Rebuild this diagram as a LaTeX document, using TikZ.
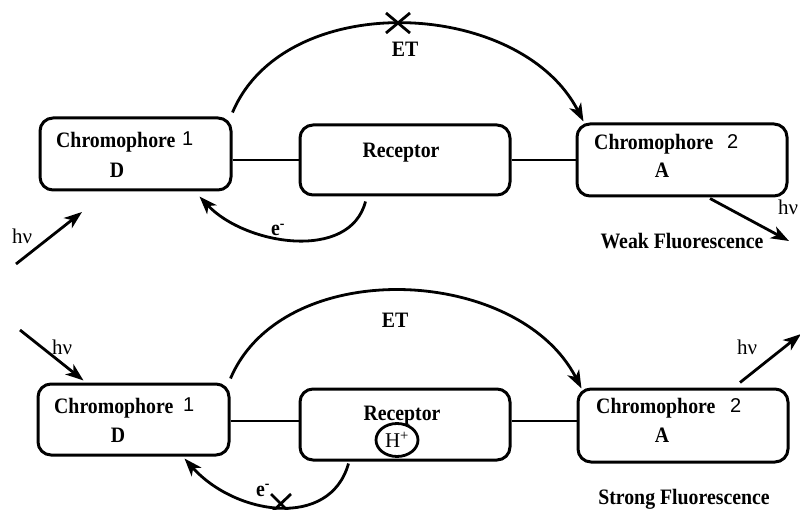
\documentclass[tikz,border=0pt]{standalone}
\usepackage{fontspec}
\setmainfont{Liberation Serif}
\newfontfamily\bsf[FakeStretch=0.9]{Liberation Serif}
\newfontfamily\numfont{Liberation Sans}
\usetikzlibrary{arrows.meta,shapes.geometric}
\begin{document}
\begin{tikzpicture}[x=1pt,y=-1pt,
  box/.style={draw, line width=3pt, rounded corners=13pt, inner sep=0},
  lbl/.style={font=\bsf\bfseries\fontsize{22}{24}\selectfont, inner sep=0},
  num/.style={font=\numfont\fontsize{20}{22}\selectfont, inner sep=0, anchor=base west},
  hv/.style={font=\fontsize{21}{23}\selectfont, inner sep=0, anchor=base west},
  link/.style={line width=2.8pt},
  arr/.style={line width=2.8pt, -{Stealth[length=18pt,width=13pt,inset=5pt]}},
  cross/.style={line width=2.8pt}]
\useasboundingbox (0,0) rectangle (800,510);
\clip (0,0) rectangle (800,510);

% ---------- top row ----------
\node[box, minimum width=191pt, minimum height=72pt] (c1t) at (135.5,154) {};
\node[box, minimum width=210pt, minimum height=70pt] (rt) at (405,160) {};
\node[box, minimum width=210pt, minimum height=72pt] (c2t) at (682,160) {};

\node[lbl, anchor=base west] (t1a) at (56,148) {Chromophore};
\node[num] (t1n) at (182,146) {1};
\node[lbl, anchor=base] (t1d) at (117,178) {D};
\node[lbl, anchor=base] (trt) at (401,158) {Receptor};
\node[lbl, anchor=base west] (t2a) at (594,150) {Chromophore};
\node[num] (t2n) at (727,149) {2};
\node[lbl, anchor=base] (t2d) at (662,178) {A};

\draw[link] (c1t.east |- rt.west) -- (rt.west);
\draw[link] (rt.east) -- (c2t.west);

\draw[arr] ([yshift=4pt]c1t.north east) .. controls (285,-12) and (520,-2) .. ([xshift=8pt,yshift=1pt]c2t.north west);
\draw[cross] (386,13) -- (410,33) (386,33) -- (410,13);
\node[lbl, anchor=base] (ett) at (405,57) {ET};

\draw[arr] ([xshift=67pt,yshift=-5pt]rt.south west) .. controls (350,262) and (245,245) .. ([xshift=-33pt,yshift=-5pt]c1t.south east);
\node[lbl, anchor=base west] (et) at (271,236) {e\textsuperscript{-}};

\coordinate (h1s) at (16,264);
\coordinate (h1e) at (82,212);
\draw[arr] (h1s) -- (h1e);
\node[hv] (h1l) at (12,244) {hν};

\coordinate (h2e) at (789,241);
\draw[arr] ([xshift=28pt,yshift=-1pt]c2t.south) -- (h2e);
\node[hv] (h2l) at (778,215) {hν};
\node[lbl, anchor=base] (wf) at (682,249) {Weak Fluorescence};

% ---------- bottom row ----------
\node[box, minimum width=191pt, minimum height=71pt] (c1b) at (133.5,419.5) {};
\node[box, minimum width=210pt, minimum height=71pt] (rb) at (405,424.5) {};
\node[box, minimum width=210pt, minimum height=73pt] (c2b) at (683,425.5) {};

\node[lbl, anchor=base west] (b1a) at (54,413) {Chromophore};
\node[num] (b1n) at (183,411) {1};
\node[lbl, anchor=base] (b1d) at (118,442) {D};
\node[lbl, anchor=base] (brt) at (402,420) {Receptor};
\node[draw, ellipse, line width=2.8pt, minimum width=42pt, minimum height=33pt, inner sep=0,
      font=\fontsize{21}{23}\selectfont] (hp) at (397,440) {H\textsuperscript{+}};
\node[lbl, anchor=base west] (b2a) at (596,413) {Chromophore};
\node[num] (b2n) at (730,412) {2};
\node[lbl, anchor=base] (b2d) at (662,442) {A};

\draw[link] (c1b.east |- 0,421) -- (rb.west |- 0,421);
\draw[link] (rb.east |- 0,421) -- (c2b.west |- 0,421);

\draw[arr] ([yshift=4pt]c1b.north east) .. controls (283,255) and (518,265) .. ([xshift=5pt,yshift=-1pt]c2b.north west);
\node[lbl, anchor=base] (etb) at (395,327) {ET};

\draw[arr] ([xshift=50pt,yshift=-2pt]rb.south west) .. controls (330,530) and (235,515) .. ([xshift=-46pt,yshift=-2pt]c1b.south east);
\draw[cross] (271,494) -- (290,513) (291,494) -- (271,513);
\node[lbl, anchor=base west] (eb) at (256,496) {e\textsuperscript{-}};

\coordinate (h3s) at (20,330);
\draw[arr] (h3s) -- ([xshift=47pt,yshift=2pt]c1b.north west);
\node[hv] (h3l) at (52,354) {hν};

\coordinate (h4e) at (801,334);
\draw[arr] ([xshift=57pt,yshift=5pt]c2b.north) -- (h4e);
\node[hv] (h4l) at (737,354) {hν};
\node[lbl, anchor=base] (sf) at (684,504) {Strong Fluorescence};
\end{tikzpicture}
\end{document}
